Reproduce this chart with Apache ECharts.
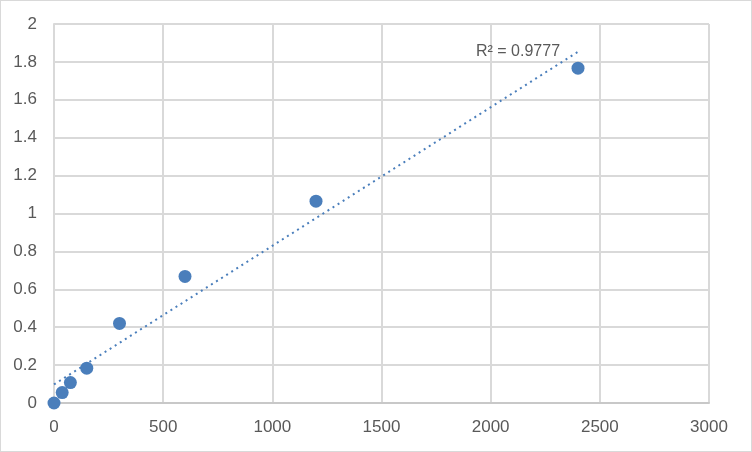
<!DOCTYPE html>
<html>
<head>
<meta charset="utf-8">
<script src="https://cdn.jsdelivr.net/npm/echarts@6/dist/echarts.min.js"></script>
<style>
  html, body { margin: 0; padding: 0; background: #fff; }
  #chart { width: 750px; height: 450px; border: 1px solid #d9d9d9; }
</style>
</head>
<body>
<div id="chart"></div>
<script>
// concentrations and readings
var xValues = [0, 37.5, 75, 150, 300, 600, 1200, 2400];
var yValues = [0, 0.055, 0.108, 0.184, 0.42, 0.668, 1.065, 1.767];
var rSquaredText = 'R² = 0.9777';

// linear trendline (least squares), like Excel does
var n = xValues.length;
var mx = 0, my = 0;
for (var i = 0; i < n; i++) { mx += xValues[i]; my += yValues[i]; }
mx /= n; my /= n;
var sxx = 0, sxy = 0;
for (var i = 0; i < n; i++) {
  sxx += (xValues[i] - mx) * (xValues[i] - mx);
  sxy += (xValues[i] - mx) * (yValues[i] - my);
}
var slope = sxy / sxx;
var intercept = my - slope * mx;
var xFirst = xValues[0], xLast = xValues[n - 1];
var trend = [[xFirst, intercept + slope * xFirst], [xLast, intercept + slope * xLast]];

var points = xValues.map(function (x, i) { return [x, yValues[i]]; });

var blue = '#4a7ebb';
var grey = '#d9d9d9';
var textColor = '#595959';
var font = 'Liberation Sans';

var chart = echarts.init(document.getElementById('chart'));
chart.setOption({
  animation: false,
  grid: { left: 53, right: 42, top: 23, bottom: 48 },
  xAxis: {
    type: 'value', min: 0, max: 3000, interval: 500,
    axisLine: { lineStyle: { color: '#c8c8c8', width: 2 } },
    axisTick: { show: false },
    axisLabel: { color: textColor, fontSize: 17, margin: 16, fontFamily: font,
      formatter: function (v) { return String(v); } },
    splitLine: { lineStyle: { color: grey, width: 2 } }
  },
  yAxis: {
    type: 'value', min: 0, max: 2, interval: 0.2,
    axisLine: { show: true, lineStyle: { color: grey, width: 2 } },
    axisTick: { show: false },
    axisLabel: { color: textColor, fontSize: 17, margin: 17, fontFamily: font },
    splitLine: { lineStyle: { color: grey, width: 2 } }
  },
  series: [
    {
      type: 'line',
      data: trend,
      symbol: 'none',
      lineStyle: { color: blue, width: 2, type: [2, 4] },
      endLabel: {
        show: true,
        formatter: rSquaredText,
        color: textColor,
        fontSize: 16,
        fontFamily: font,
        offset: [-110, 0]
      },
      z: 2
    },
    {
      type: 'scatter',
      data: points,
      symbol: 'circle',
      symbolSize: 13,
      itemStyle: { color: blue, opacity: 1 },
      z: 3
    }
  ]
});
</script>
</body>
</html>
